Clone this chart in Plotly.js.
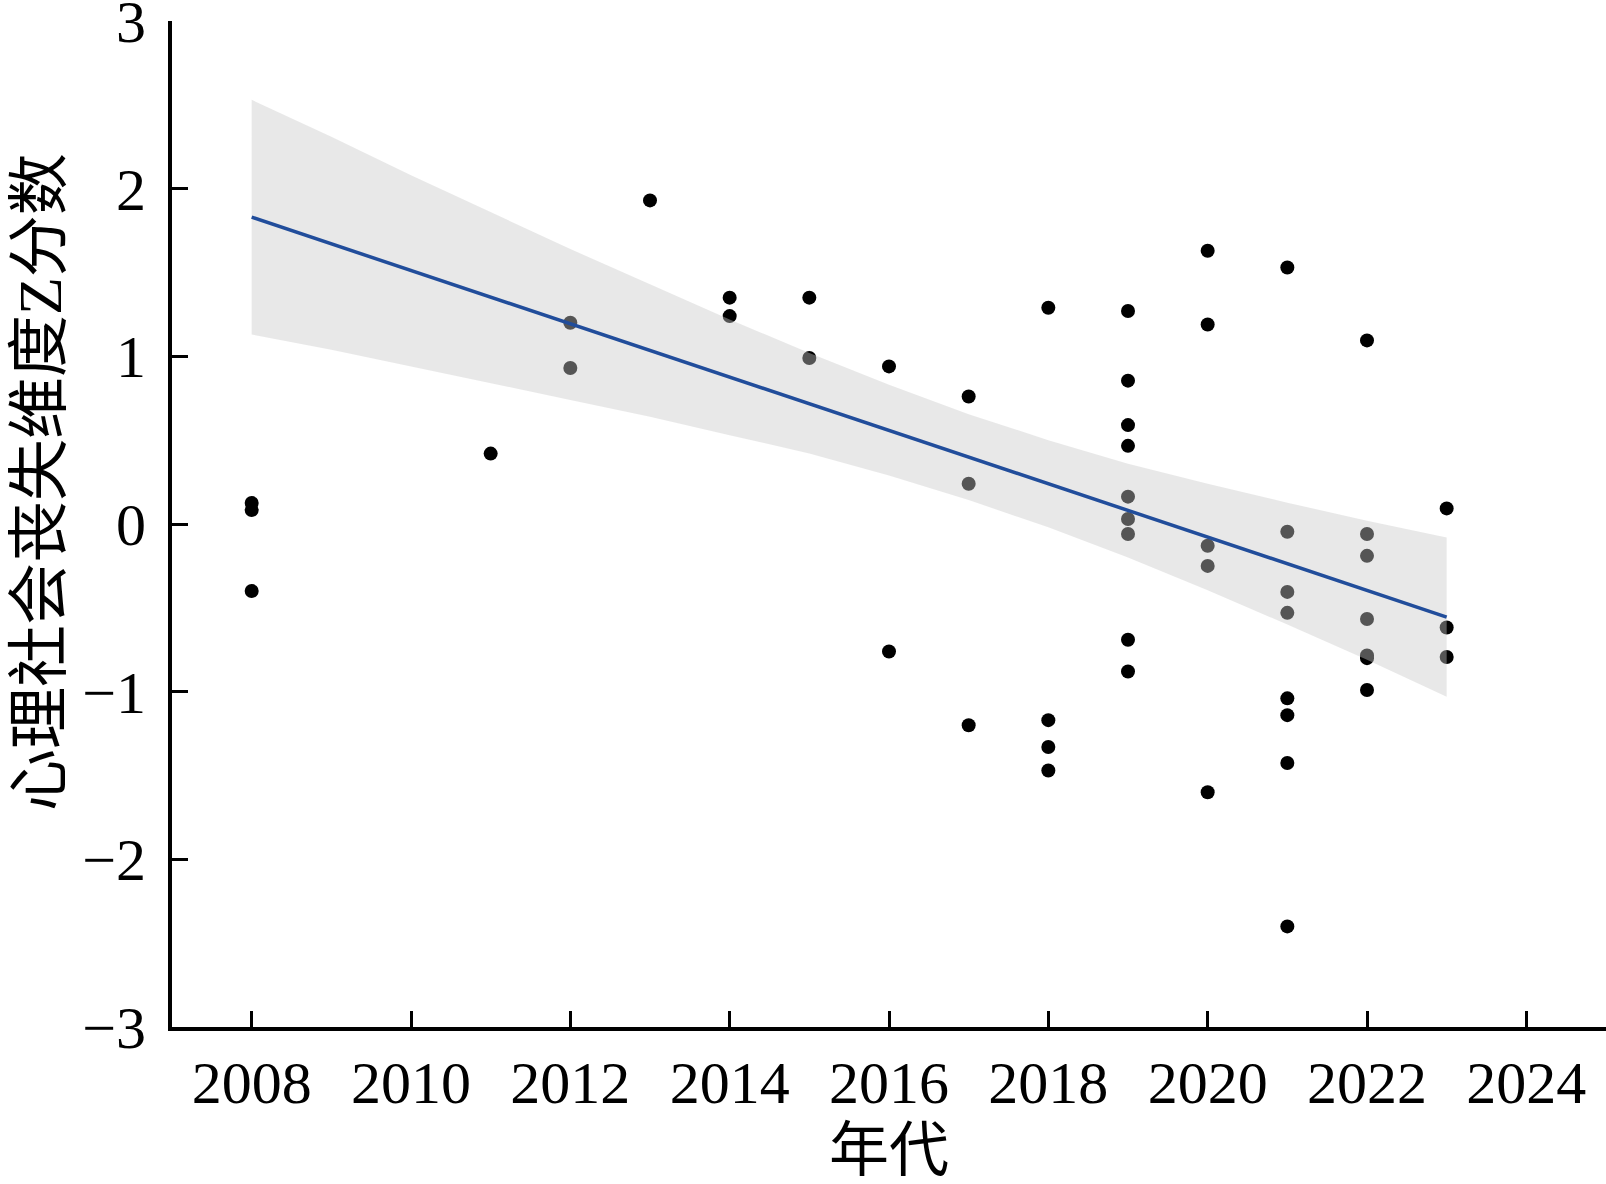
<!DOCTYPE html>
<html>
<head>
<meta charset="utf-8">
<script src="https://cdn.plot.ly/plotly-3.0.1.min.js"></script>
<style>
  html, body { margin: 0; padding: 0; background: #fff; }
  #chart { width: 1606px; height: 1184px; }
</style>
</head>
<body>
<div id="chart"></div>
<script>
// study points: year and Z score
var years = [2008, 2008, 2008,
  2011,
  2012, 2012,
  2013,
  2014, 2014,
  2015, 2015,
  2016, 2016,
  2017, 2017, 2017,
  2018, 2018, 2018, 2018,
  2019, 2019, 2019, 2019, 2019, 2019, 2019, 2019, 2019,
  2020, 2020, 2020, 2020, 2020,
  2021, 2021, 2021, 2021, 2021, 2021, 2021, 2021,
  2022, 2022, 2022, 2022, 2022, 2022, 2022,
  2023, 2023, 2023];
var zScores = [0.125, 0.083, -0.40,
  0.42,
  1.20, 0.93,
  1.93,
  1.35, 1.24,
  1.35, 0.99,
  0.94, -0.76,
  0.76, 0.24, -1.20,
  1.29, -1.17, -1.33, -1.47,
  1.27, 0.855, 0.59, 0.466, 0.163, 0.03, -0.06, -0.69, -0.88,
  1.63, 1.19, -0.13, -0.25, -1.60,
  1.53, -0.046, -0.405, -0.53, -1.04, -1.14, -1.425, -2.40,
  1.095, -0.06, -0.19, -0.567, -0.784, -0.80, -0.99,
  0.093, -0.617, -0.793];

// fitted line and its confidence band
var fitYears = [2008, 2023];
var fitZ = [1.83, -0.555];
var bandYears = [2008, 2009, 2010, 2011, 2012, 2013, 2014, 2015, 2016, 2017, 2018, 2019, 2020, 2021, 2022, 2023];
var bandUpper = [2.53, 2.31, 2.08, 1.86, 1.64, 1.43, 1.22, 1.02, 0.83, 0.655, 0.50, 0.36, 0.24, 0.127, 0.02, -0.08];
var bandLower = [1.13, 1.04, 0.94, 0.84, 0.74, 0.64, 0.53, 0.42, 0.29, 0.143, -0.02, -0.20, -0.395, -0.60, -0.81, -1.03];

var xTicks = [2008, 2010, 2012, 2014, 2016, 2018, 2020, 2022, 2024];
var yTicks = [-3, -2, -1, 0, 1, 2, 3];

var fontFam = '"Liberation Serif", "Times New Roman", "Noto Sans CJK SC", serif';

var bandX = bandYears.concat(bandYears.slice().reverse());
var bandY = bandUpper.concat(bandLower.slice().reverse());

var data = [
  {
    x: years,
    y: zScores,
    type: 'scatter',
    mode: 'markers',
    marker: { color: '#000000', size: 14 },
    hoverinfo: 'x+y',
    showlegend: false
  },
  {
    x: bandX,
    y: bandY,
    type: 'scatter',
    mode: 'lines',
    fill: 'toself',
    fillcolor: 'rgba(201,201,201,0.424)',
    line: { width: 0 },
    hoverinfo: 'skip',
    showlegend: false
  },
  {
    x: fitYears,
    y: fitZ,
    type: 'scatter',
    mode: 'lines',
    line: { color: '#214d9b', width: 3.5 },
    hoverinfo: 'skip',
    showlegend: false
  }
];

var layout = {
  width: 1606,
  height: 1184,
  paper_bgcolor: '#ffffff',
  plot_bgcolor: '#ffffff',
  margin: { l: 172, r: 0, t: 21, b: 157, pad: 0 },
  font: { family: fontFam, size: 60, color: '#000000' },
  xaxis: {
    range: [2007, 2025],
    tickvals: xTicks,
    ticktext: xTicks.map(String),
    ticks: 'inside',
    ticklen: 16,
    tickwidth: 3,
    tickcolor: '#000000',
    showline: true,
    linewidth: 4,
    linecolor: '#000000',
    showgrid: false,
    zeroline: false,
    ticklabelstandoff: 0,
    ticklabeloverflow: 'allow',
    tickfont: { family: fontFam, size: 60 },
    title: {
      text: '年代',
      font: { family: fontFam, size: 60 },
      standoff: 37
    }
  },
  yaxis: {
    range: [-3, 3],
    tickvals: yTicks,
    ticks: 'inside',
    ticklen: 16,
    tickwidth: 3,
    tickcolor: '#000000',
    showline: true,
    linewidth: 4,
    linecolor: '#000000',
    showgrid: false,
    zeroline: false,
    ticklabelstandoff: 10,
    ticklabeloverflow: 'allow',
    tickfont: { family: fontFam, size: 60 },
    title: { text: '' }
  },
  annotations: [{
    xref: 'paper',
    yref: 'paper',
    x: -0.0925,
    xanchor: 'center',
    y: 0.542,
    yanchor: 'middle',
    text: '心理社会丧失维度Z分数',
    textangle: -90,
    font: { family: fontFam, size: 62, color: '#000000' },
    showarrow: false
  }]
};

Plotly.newPlot('chart', data, layout, { displayModeBar: false, staticPlot: true });
</script>
</body>
</html>
